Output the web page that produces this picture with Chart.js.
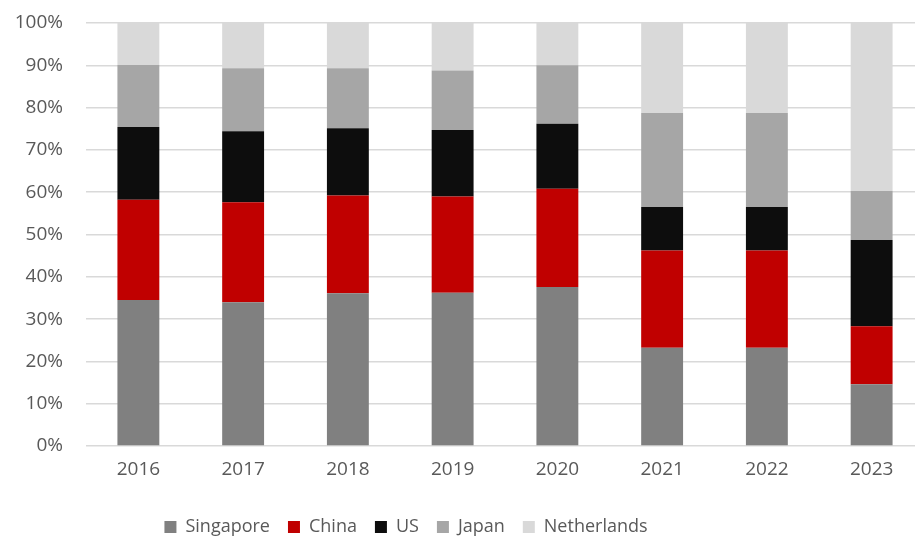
<!DOCTYPE html>
<html>
<head>
<meta charset="utf-8">
<script src="https://cdn.jsdelivr.net/npm/chart.js@4.4.1/dist/chart.umd.min.js"></script>
<style>
  html, body { margin: 0; padding: 0; background: #fff; overflow: hidden; }
  #wrap { width: 925px; height: 540px; position: relative; }
</style>
</head>
<body>
<div id="wrap"><canvas id="chart"></canvas></div>
<script>
// data (share of total, %)
const years = ['2016', '2017', '2018', '2019', '2020', '2021', '2022', '2023'];
const singapore   = [34.5, 34.0, 36.1, 36.2, 37.6, 23.2, 23.2, 14.6];
const china       = [23.7, 23.6, 23.1, 22.8, 23.2, 23.0, 23.0, 13.7];
const us          = [17.2, 16.8, 15.9, 15.7, 15.4, 10.3, 10.3, 20.4];
const japan       = [14.7, 14.9, 14.2, 14.1, 13.8, 22.2, 22.2, 11.6];
const netherlands = [9.9, 10.7, 10.7, 11.2, 10.0, 21.3, 21.3, 39.7];
const yTicks = [0, 10, 20, 30, 40, 50, 60, 70, 80, 90, 100];

const FONT = "'Open Sans', 'Liberation Sans', sans-serif";
const TXT = '#595959';

function series(label, data, color) {
  return { label: label, data: data, backgroundColor: color, borderWidth: 0,
           barPercentage: 0.4, categoryPercentage: 1.0 };
}

// fixed legend height, and the legend in the reference sits left of centre
const legendTweak = {
  id: 'legendTweak',
  beforeLayout(chart) {
    const lg = chart.legend;
    if (!lg || lg._fixed) return;
    const fit = lg.fit;
    lg.fit = function () { fit.call(this); this.height = 40; };
    lg._fixed = true;
  },
  afterLayout(chart) {
    chart.legend.left -= 56;
    chart.legend.right -= 56;
  }
};

new Chart(document.getElementById('chart'), {
  type: 'bar',
  data: {
    labels: years,
    datasets: [
      series('Singapore', singapore, '#808080'),
      series('China', china, '#c00000'),
      series('US', us, '#0d0d0d'),
      series('Japan', japan, '#a6a6a6'),
      series('Netherlands', netherlands, '#d9d9d9')
    ]
  },
  plugins: [legendTweak],
  options: {
    responsive: true,
    maintainAspectRatio: false,
    animation: false,
    layout: { padding: { top: 23, right: 1, left: 0, bottom: 0 } },
    scales: {
      x: {
        stacked: true,
        grid: { display: false },
        border: { display: false },
        ticks: { color: TXT, font: { family: FONT, size: 19 }, padding: 4 },
        afterFit: s => { s.height = 54; }
      },
      y: {
        stacked: true,
        min: 0, max: 100,
        afterBuildTicks: s => { s.ticks = yTicks.map(v => ({ value: v })); },
        grid: { color: '#d9d9d9', lineWidth: 1.5, drawTicks: false },
        border: { display: false },
        ticks: { color: TXT, font: { family: FONT, size: 19 }, padding: 23,
                 callback: v => v + '%' },
        afterFit: s => { s.width = 86; s.paddingTop = 0; s.paddingBottom = 0; }
      }
    },
    plugins: {
      tooltip: { enabled: false },
      legend: {
        position: 'bottom',
        labels: { color: TXT, font: { family: FONT, size: 18 },
                  boxWidth: 12, boxHeight: 12, padding: 18 }
      }
    }
  }
});
</script>
</body>
</html>
